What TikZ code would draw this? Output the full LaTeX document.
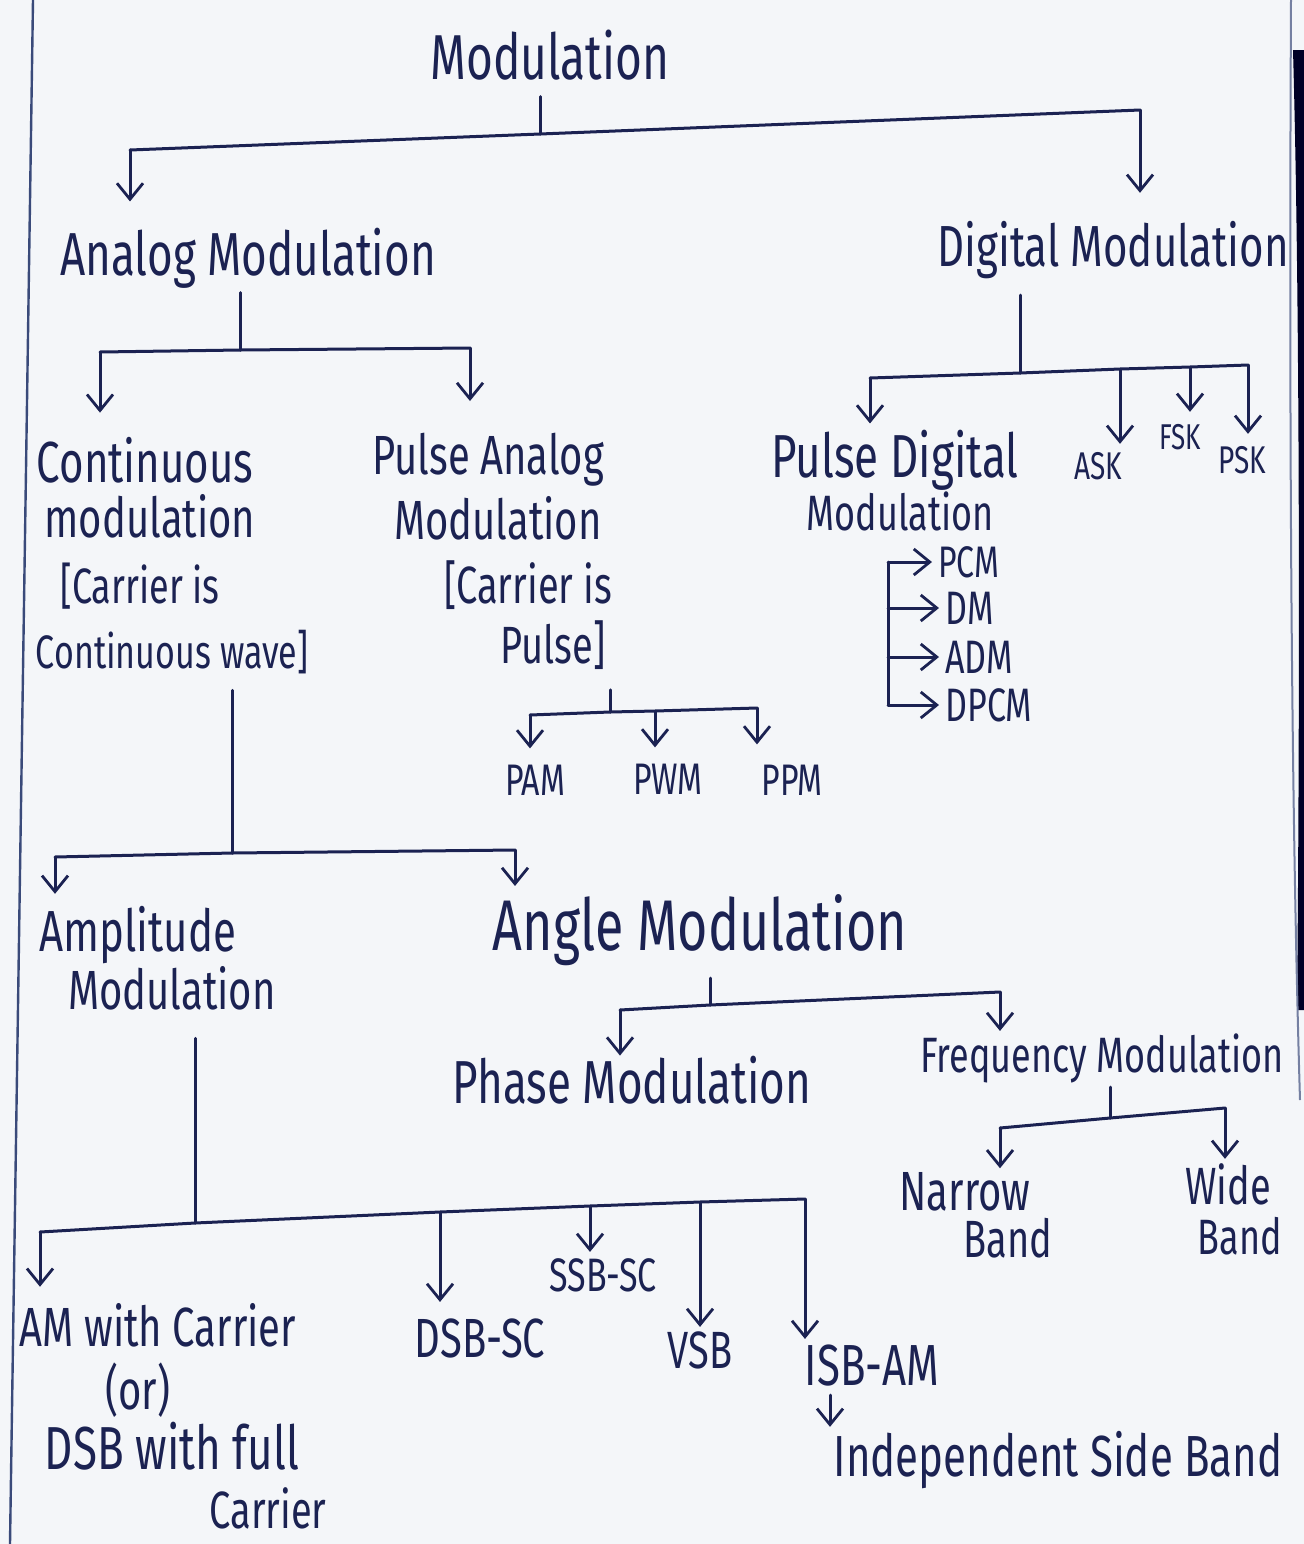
\documentclass[tikz,border=0pt]{standalone}
\usepackage{fontspec}
\setmainfont{Fira Sans}
\usepackage{graphicx}
\usetikzlibrary{arrows.meta}
\definecolor{ink}{HTML}{1B2252}
\definecolor{paper}{HTML}{F4F6F9}
\definecolor{edge}{HTML}{3A4A7A}
% tall, narrow lettering
\newcommand{\hw}[1]{\scalebox{1}[1.38]{#1}}
\tikzset{
  lab/.style={inner sep=0pt, text=ink},
  fs/.style={font=\fontsize{#1}{#1}\selectfont},
  wire/.style={draw=ink, line width=1.5pt, line cap=round, line join=round},
  arr/.style={wire, -{Straight Barb[length=8pt,width=13pt,line width=1.4pt]}},
}
\begin{document}
\begin{tikzpicture}[x=0.5pt,y=-0.5pt]
% sheet
\fill[paper] (0,0) rectangle (1304,1544);
\useasboundingbox (0,0) rectangle (1304,1544);
\fill[black!85!blue] (1293,50) .. controls (1300,300) and (1300,700) .. (1297,1010) -- (1304,1010) -- (1304,50) -- cycle;
\draw[edge, line width=1.2pt] (33,0) -- (10,1544);
\draw[edge!70, line width=1pt] (1291,0) .. controls (1289,400) and (1291,800) .. (1300,1100);

% ---- labels ----
\node[lab,fs=23] (mod) at (550,55) {\hw{Modulation}};

\node[lab,fs=22] (ana) at (248,258) {\hw{Analog Modulation}};
\node[lab,fs=21] (dig) at (1113,250) {\hw{Digital Modulation}};

\node[lab,fs=21] (cont1) at (145,460) {\hw{Continuous}};
\node[lab,fs=20] (cont2) at (150,516) {\hw{modulation}};
\node[lab,fs=18] (cont3) at (140,586) {\hw{[Carrier is}};
\node[lab,fs=17] (cont4) at (172,652) {\hw{Continuous wave]}};

\node[lab,fs=20] (pa1) at (488,460) {\hw{Pulse Analog}};
\node[lab,fs=20] (pa2) at (498,518) {\hw{Modulation}};
\node[lab,fs=19] (pa3) at (528,585) {\hw{[Carrier is}};
\node[lab,fs=19] (pa4) at (553,645) {\hw{Pulse]}};

\node[lab,fs=16] (pam) at (535,780) {\hw{PAM}};
\node[lab,fs=16] (pwm) at (668,779) {\hw{PWM}};
\node[lab,fs=16] (ppm) at (792,780) {\hw{PPM}};

\node[lab,fs=22] (pd1) at (895,460) {\hw{Pulse Digital}};
\node[lab,fs=18] (pd2) at (900,511) {\hw{Modulation}};
\node[lab,fs=14] (ask) at (1098,466) {\hw{ASK}};
\node[lab,fs=13] (fsk) at (1180,437) {\hw{FSK}};
\node[lab,fs=14] (psk) at (1242,460) {\hw{PSK}};

\node[lab,fs=16,anchor=west] (pcm)  at (938,562) {\hw{PCM}};
\node[lab,fs=17,anchor=west] (dm)   at (945,608) {\hw{DM}};
\node[lab,fs=17,anchor=west] (adm)  at (945,657) {\hw{ADM}};
\node[lab,fs=17,anchor=west] (dpcm) at (945,705) {\hw{DPCM}};

\node[lab,fs=21] (amp1) at (138,935) {\hw{Amplitude}};
\node[lab,fs=20] (amp2) at (172,988) {\hw{Modulation}};
\node[lab,fs=26] (ang)  at (700,930) {\hw{Angle Modulation}};

\node[lab,fs=22] (ph) at (632,1080) {\hw{Phase Modulation}};
\node[lab,fs=18] (fq) at (1102,1058) {\hw{Frequency Modulation}};

\node[lab,fs=20] (nb1) at (965,1192) {\hw{Narrow}};
\node[lab,fs=19] (nb2) at (1008,1238) {\hw{Band}};
\node[lab,fs=19] (wb1) at (1228,1184) {\hw{Wide}};
\node[lab,fs=18] (wb2) at (1240,1236) {\hw{Band}};

\node[lab,fs=20] (am1) at (158,1325) {\hw{AM with Carrier}};
\node[lab,fs=20] (am2) at (138,1390) {\hw{(or)}};
\node[lab,fs=22] (am3) at (172,1446) {\hw{DSB with full}};
\node[lab,fs=19] (am4) at (268,1508) {\hw{Carrier}};

\node[lab,fs=20] (dsb) at (480,1338) {\hw{DSB-SC}};
\node[lab,fs=17] (ssb) at (603,1275) {\hw{SSB-SC}};
\node[lab,fs=19] (vsb) at (700,1350) {\hw{VSB}};
\node[lab,fs=21] (isb) at (872,1366) {\hw{ISB-AM}};
\node[lab,fs=21] (isbf) at (1058,1460) {\hw{Independent Side Band}};

% ---- junctions ----
\coordinate (t0) at (540,134);
\coordinate (tL) at (130,150);
\coordinate (tR) at (1140,110);

\coordinate (a0) at (240,350);
\coordinate (aL) at (100,352);
\coordinate (aR) at (470,348);

\coordinate (d0) at (1020,373);
\coordinate (dL) at (870,378);
\coordinate (dA) at (1120,369);
\coordinate (dF) at (1190,367);
\coordinate (dR) at (1248,365);

\coordinate (p0) at (610,712);
\coordinate (pL) at (530,715);
\coordinate (pW) at (655,711);
\coordinate (pR) at (757,708);

\coordinate (c0) at (232,853);
\coordinate (cL) at (55,857);
\coordinate (cR) at (515,850);

\coordinate (g0) at (710,1005);
\coordinate (gL) at (620,1010);
\coordinate (gR) at (1000,992);

\coordinate (f0) at (1110,1118);
\coordinate (fL) at (1000,1128);
\coordinate (fR) at (1225,1108);

\coordinate (m0) at (195,1223);
\coordinate (mL) at (40,1232);
\coordinate (mD) at (440,1212);
\coordinate (mS) at (590,1206);
\coordinate (mV) at (700,1202);
\coordinate (mI) at (805,1199);

\coordinate (trk) at (888,562);

% ---- connectors ----
% Modulation
\draw[wire] ([yshift=-8pt]mod.south -| t0) -- (t0);
\draw[wire] (tL) -- (t0) -- (tR);
\draw[arr, shorten >=13pt] (tL) -- (tL |- ana.north);
\draw[arr, shorten >=14pt] (tR) -- (tR |- dig.north);

% Analog
\draw[wire] ([yshift=-2pt]ana.south -| a0) -- (a0);
\draw[wire] (aL) -- (a0) -- (aR);
\draw[arr, shorten >=12pt] (aL) -- (aL |- cont1.north);
\draw[arr, shorten >=16pt] (aR) -- (aR |- pa1.north);

% Digital
\draw[wire] ([yshift=-8pt]dig.south -| d0) -- (d0);
\draw[wire] (dL) -- (d0) -- (dA) -- (dF) -- (dR);
\draw[arr, shorten >=3pt] (dL) -- (dL |- pd1.north);
\draw[arr, shorten >=4pt] (dA) -- (dA |- ask.north);
\draw[arr, shorten >=6pt] (dF) -- (dF |- fsk.north);
\draw[arr, shorten >=6pt] (dR) -- (dR |- psk.north);

% pulse digital list
\draw[wire] (trk) -- (trk |- dpcm.west);
\draw[arr, shorten >=3pt] (trk) -- (pcm.west);
\draw[arr, shorten >=3pt] (trk |- dm.west) -- (dm.west);
\draw[arr, shorten >=3pt] (trk |- adm.west) -- (adm.west);
\draw[arr, shorten >=3pt] (trk |- dpcm.west) -- (dpcm.west);

% Pulse analog
\draw[wire] ([yshift=-10pt]pa4.south -| p0) -- (p0);
\draw[wire] (pL) -- (p0) -- (pW) -- (pR);
\draw[arr, shorten >=8pt] (pL) -- (pL |- pam.north);
\draw[arr, shorten >=8pt] (pW) -- (pW |- pwm.north);
\draw[arr, shorten >=10pt] (pR) -- (pR |- ppm.north);

% Continuous
\draw[wire] ([yshift=-8pt]cont4.south -| c0) -- (c0);
\draw[wire] (cL) -- (c0) -- (cR);
\draw[arr, shorten >=6pt] (cL) -- (cL |- amp1.north);
\draw[arr, shorten >=4pt] (cR) -- (cR |- ang.north);

% Angle
\draw[wire] ([yshift=-6pt]ang.south -| g0) -- (g0);
\draw[wire] (gL) -- (g0) -- (gR);
\draw[arr, shorten >=0pt] (gL) -- (gL |- ph.north);
\draw[arr, shorten >=1pt] (gR) -- (gR |- fq.north);

% Frequency
\draw[wire] ([yshift=-2pt]fq.south -| f0) -- (f0);
\draw[wire] (fL) -- (f0) -- (fR);
\draw[arr, shorten >=2pt] (fL) -- (fL |- nb1.north);
\draw[arr, shorten >=2pt] (fR) -- (fR |- wb1.north);

% Amplitude
\draw[wire] ([yshift=-14pt]amp2.south -| m0) -- (m0);
\draw[wire] (mL) -- (m0) -- (mD) -- (mS) -- (mV) -- (mI);
\draw[arr, shorten >=8pt] (mL) -- (mL |- am1.north);
\draw[arr, shorten >=8pt] (mD) -- (mD |- dsb.north);
\draw[arr, shorten >=3pt] (mS) -- (mS |- ssb.north);
\draw[arr, shorten >=2pt] (mV) -- (mV |- vsb.north);
\draw[arr, shorten >=3pt] (mI) -- (mI |- isb.north);

% ISB expansion
\draw[arr, shorten <=4pt, shorten >=2pt] (isb.south -| 830,0) -- (isbf.north -| 830,0);
\end{tikzpicture}
\end{document}
